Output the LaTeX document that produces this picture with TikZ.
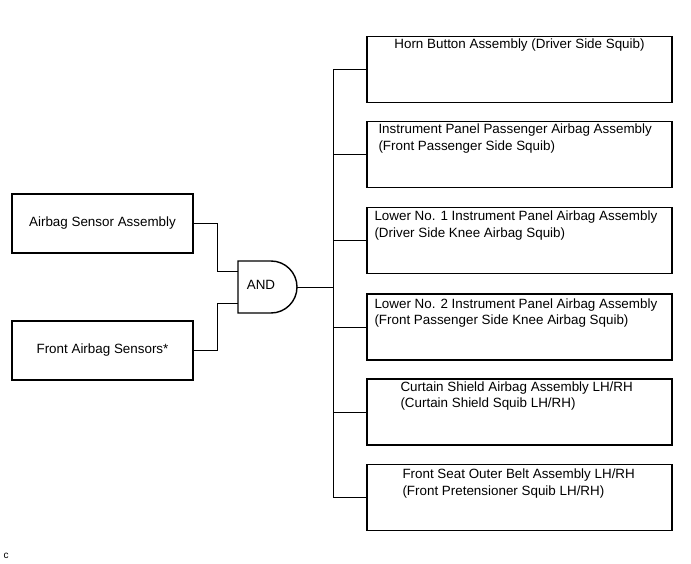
\documentclass[tikz,border=0pt]{standalone}
\usepackage{fontspec}
\setmainfont{Liberation Sans}
\usetikzlibrary{positioning}
\begin{document}
\begin{tikzpicture}[x=1pt,y=-1pt,
  box/.style={draw,line width=1.4pt,inner sep=0pt,font=\fontsize{13.4}{16.5}\selectfont},
  lbox/.style={box,minimum width=181pt,minimum height=59pt},
  rbox/.style={box,minimum width=305pt,minimum height=66pt},
  txt/.style={inner sep=0pt,align=left,font=\fontsize{13.4}{16.5}\selectfont},
  wire/.style={line width=0.8pt}]
\useasboundingbox (0,0) rectangle (691,564);
\node[lbox] (sensor) at (102.5,223.5) {Airbag Sensor Assembly};
\node[lbox] (front) at (102.5,350.5) {Front Airbag Sensors*};
\draw[line width=1.4pt] (238,261) -- (271,261) arc[start angle=-90,end angle=90,radius=26] -- (238,313) -- cycle;
\node[txt] (gate) at (261,285) {AND};
\coordinate (in1) at (238,271);
\coordinate (in2) at (238,303);
\coordinate (out) at (297,287);
\coordinate (bus) at (333,287);
\draw[wire] (sensor.east) -- ++(24,0) |- (in1);
\draw[wire] (front.east) -- ++(24,0) |- (in2);
\draw[wire] (out) -- (bus);
\node[rbox] (horn) at (519.5,69.5) {};
\node[rbox] (ipass) at (519.5,154.5) {};
\node[rbox] (knee1) at (519.5,240.5) {};
\node[rbox] (knee2) at (519.5,327) {};
\node[rbox] (curtain) at (519.5,412) {};
\node[rbox] (belt) at (519.5,497.5) {};
\node[txt,below=3pt of horn.north] (t1) {Horn Button Assembly (Driver Side Squib)};
\node[txt,below right=3pt and 12pt of ipass.north west] (t2) {Instrument Panel Passenger Airbag Assembly\\(Front Passenger Side Squib)};
\node[txt,below right=4pt and 8pt of knee1.north west] (t3) {Lower No. 1 Instrument Panel Airbag Assembly\\(Driver Side Knee Airbag Squib)};
\node[txt,below right=5pt and 8pt of knee2.north west] (t4) {Lower No. 2 Instrument Panel Airbag Assembly\\(Front Passenger Side Knee Airbag Squib)};
\node[txt,below right=3pt and 34pt of curtain.north west] (t5) {Curtain Shield Airbag Assembly LH/RH\\(Curtain Shield Squib LH/RH)};
\node[txt,below right=5pt and 36pt of belt.north west] (t6) {Front Seat Outer Belt Assembly LH/RH\\(Front Pretensioner Squib LH/RH)};
\draw[wire] (horn.west -| bus) -- (belt.west -| bus);
\draw[wire] (horn.west) -- (horn.west -| bus);
\draw[wire] (ipass.west) -- (ipass.west -| bus);
\draw[wire] (knee1.west) -- (knee1.west -| bus);
\draw[wire] (knee2.west) -- (knee2.west -| bus);
\draw[wire] (curtain.west) -- (curtain.west -| bus);
\draw[wire] (belt.west) -- (belt.west -| bus);
\node[txt,font=\fontsize{10}{11}\selectfont] (code) at (6,556) {c};
\end{tikzpicture}
\end{document}
